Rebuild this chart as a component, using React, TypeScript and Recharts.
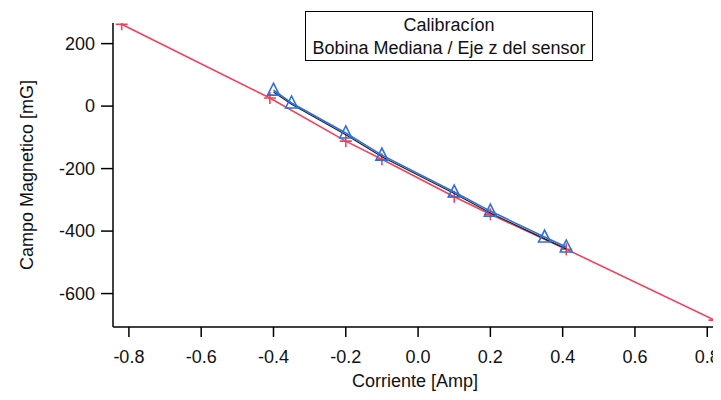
import React from 'react'
import { Label, Scatter, ScatterChart, XAxis, YAxis } from 'recharts'

// recta de calibracion (cruces rojas)
const corrienteFit = [-0.82, -0.41, -0.2, -0.1, 0.1, 0.2, 0.41, 0.82]
const campoFit = [262, 26, -112, -170, -290, -346, -458, -685]

// medidas (triangulos azules) y trazo negro debajo
const corrienteMed = [-0.4, -0.35, -0.2, -0.1, 0.1, 0.2, 0.35, 0.41]
const campoMed = [51, 10, -86, -157, -275, -336, -419, -451]
const campoRef = [45, 6, -92, -162, -280, -342, -425, -457]

const xTicks = [-0.8, -0.6, -0.4, -0.2, 0, 0.2, 0.4, 0.6, 0.8]
const yTicks = [200, 0, -200, -400, -600]

const RED = '#f2405a'
const BLUE = '#2f6fd6'
const FONT = "'Liberation Sans', Arial, sans-serif"

const fitData = corrienteFit.map((x, i) => ({ x, y: campoFit[i] }))
const medData = corrienteMed.map((x, i) => ({ x, y: campoMed[i] }))
const refData = corrienteMed.map((x, i) => ({ x, y: campoRef[i] }))

const Plus = (p: any) => (
  <path
    d={`M${p.cx - 6},${p.cy}H${p.cx + 6}M${p.cx},${p.cy - 6}V${p.cy + 6}`}
    stroke={RED}
    strokeWidth={1.6}
    fill="none"
  />
)

const Tri = (p: any) => (
  <path
    d={`M${p.cx},${p.cy - 7}L${p.cx + 6},${p.cy + 5}L${p.cx - 6},${p.cy + 5}Z`}
    stroke={BLUE}
    strokeWidth={1.6}
    fill="none"
  />
)

const NoDot = () => <g />

const tickStyle = { fontSize: 18, fill: '#111', fontFamily: FONT }

export default function App() {
  return (
    <div style={{ position: 'relative', width: 713, height: 392, fontFamily: FONT, background: '#fff' }}>
      <ScatterChart width={713} height={392} margin={{ top: 15, right: 4, bottom: 0, left: 0 }}>
        <XAxis
          type="number"
          dataKey="x"
          domain={[-0.844, 0.827]}
          ticks={xTicks}
          allowDataOverflow
          height={73}
          tick={tickStyle}
          tickSize={10}
          tickMargin={13}
          tickFormatter={(v: number) => v.toFixed(1)}
          axisLine={{ stroke: '#000', strokeWidth: 1.5 }}
          tickLine={{ stroke: '#000', strokeWidth: 1.5 }}
        >
          <Label value="Corriente [Amp]" position="insideBottom" offset={13} style={{ fontSize: 18, fill: '#111', fontFamily: FONT }} />
        </XAxis>
        <YAxis
          type="number"
          dataKey="y"
          domain={[-707, 266]}
          ticks={yTicks}
          allowDataOverflow
          width={105}
          tick={tickStyle}
          tickSize={12}
          tickMargin={6}
          axisLine={{ stroke: '#000', strokeWidth: 1.5 }}
          tickLine={{ stroke: '#000', strokeWidth: 1.5 }}
        >
          <Label
            value="Campo Magnetico [mG]"
            angle={-90}
            position="insideLeft"
            offset={19}
            style={{ fontSize: 18, fill: '#111', fontFamily: FONT, textAnchor: 'middle' }}
          />
        </YAxis>
        <Scatter data={fitData} line={{ stroke: RED, strokeWidth: 1.6 }} shape={Plus} isAnimationActive={false} />
        <Scatter data={refData} line={{ stroke: '#222', strokeWidth: 1.2 }} shape={NoDot} isAnimationActive={false} />
        <Scatter data={medData} line={{ stroke: BLUE, strokeWidth: 1.6 }} shape={Tri} isAnimationActive={false} />
      </ScatterChart>
      <div
        style={{
          position: 'absolute',
          left: 297,
          top: 3,
          width: 288,
          height: 50,
          border: '1px solid #000',
          textAlign: 'center',
          fontSize: 18,
          lineHeight: '23px',
          color: '#111',
          paddingTop: 2,
          boxSizing: 'border-box',
        }}
      >
        <div>Calibracíon</div>
        <div>Bobina Mediana / Eje z del sensor</div>
      </div>
    </div>
  )
}
